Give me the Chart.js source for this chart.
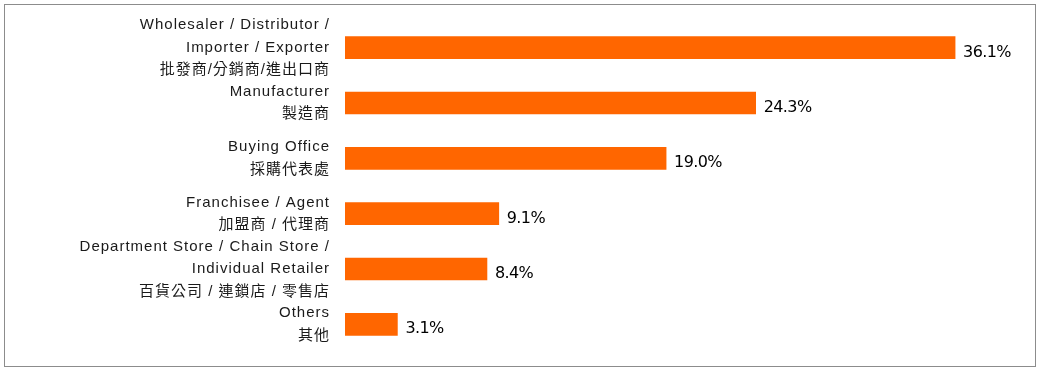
<!DOCTYPE html>
<html>
<head>
<meta charset="utf-8">
<script src="https://cdn.jsdelivr.net/npm/chart.js@4/dist/chart.umd.min.js"></script>
<style>
  html, body { margin: 0; padding: 0; background: #fff; }
  #wrap { position: relative; width: 1039px; height: 369px; }
  #frame { position: absolute; left: 4px; top: 4px; width: 1030px; height: 361px; border: 1px solid #8c8c8c; pointer-events: none; }
  canvas { position: absolute; left: 0; top: 0; }
</style>
</head>
<body>
<div id="wrap">
  <canvas id="c" width="1039" height="369"></canvas>
  <div id="frame"></div>
</div>
<script>
const categories = [
  ["Wholesaler / Distributor /", "Importer / Exporter", "批發商/分銷商/進出口商"],
  ["Manufacturer", "製造商"],
  ["Buying Office", "採購代表處"],
  ["Franchisee / Agent", "加盟商 / 代理商"],
  ["Department Store / Chain Store /", "Individual Retailer", "百貨公司 / 連鎖店 / 零售店"],
  ["Others", "其他"]
];
const shares = [36.1, 24.3, 19.0, 9.1, 8.4, 3.1];
const valueLabels = ["36.1%", "24.3%", "19.0%", "9.1%", "8.4%", "3.1%"];

const barLabelPlugin = {
  id: 'barLabels',
  afterDatasetsDraw(chart) {
    const ctx = chart.ctx;
    const meta = chart.getDatasetMeta(0);
    ctx.save();
    ctx.letterSpacing = '-0.6px';
    ctx.font = '16px "DejaVu Sans", sans-serif';
    ctx.fillStyle = '#000';
    ctx.textAlign = 'left';
    ctx.textBaseline = 'middle';
    meta.data.forEach((bar, i) => {
      ctx.fillText(valueLabels[i], bar.x + 8, bar.y + 5);
    });
    ctx.restore();
  }
};

const spacingPlugin = {
  id: 'spacing',
  beforeInit(chart) { chart.ctx.letterSpacing = '1px'; },
  beforeDraw(chart) { chart.ctx.letterSpacing = '1px'; }
};

new Chart(document.getElementById('c'), {
  type: 'bar',
  data: {
    labels: categories,
    datasets: [{
      data: shares,
      backgroundColor: '#ff6600',
      borderWidth: 0,
      barThickness: 22
    }]
  },
  options: {
    indexAxis: 'y',
    responsive: false,
    animation: false,
    layout: { padding: { left: 0, right: 18, top: 20, bottom: 17 } },
    plugins: { legend: { display: false }, tooltip: { enabled: false } },
    scales: {
      x: {
        display: false,
        min: 0,
        max: 40
      },
      y: {
        grid: { display: false, drawTicks: false },
        border: { display: false },
        ticks: {
          autoSkip: false,
          padding: 15,
          color: '#1a1a1a',
          font: { family: '"Liberation Sans", "Noto Sans CJK TC", sans-serif', size: 15, lineHeight: 1.5 }
        },
        afterFit(scale) {
          scale.width = 345;
          scale.paddingTop = 0;
          scale.paddingBottom = 0;
        }
      }
    }
  },
  plugins: [spacingPlugin, barLabelPlugin]
});
</script>
</body>
</html>
